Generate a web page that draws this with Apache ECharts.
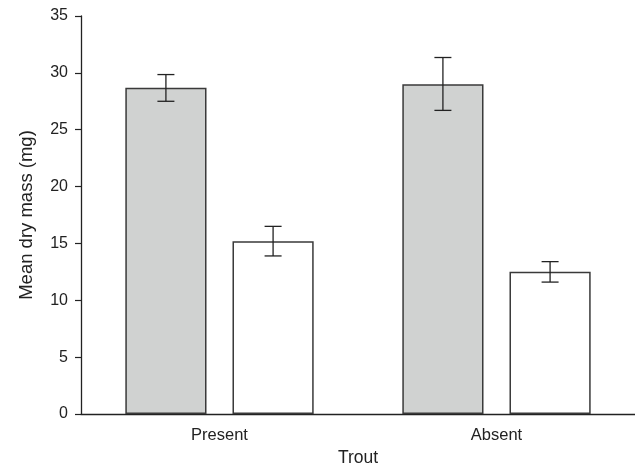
<!DOCTYPE html>
<html>
<head>
<meta charset="utf-8">
<script src="https://cdn.jsdelivr.net/npm/echarts@6/dist/echarts.min.js"></script>
<style>
html,body{margin:0;padding:0;background:#fff;}
#chart{width:635px;height:463px;}
</style>
</head>
<body>
<div id="chart"></div>
<script>
var categories = ['Present', 'Absent'];
var grayMeans = [28.7, 29.0];
var grayLow = [27.5, 26.7];
var grayHigh = [29.85, 31.35];
var whiteMeans = [15.2, 12.5];
var whiteLow = [13.9, 11.6];
var whiteHigh = [16.5, 13.4];
var yTicks = [0, 5, 10, 15, 20, 25, 30, 35];

var GAP = 0.32;
var FONT = '"Liberation Sans", Arial, Helvetica, sans-serif';

function errorSeries(low, high, idx) {
  var data = categories.map(function (c, i) { return [i, low[i], high[i]]; });
  return {
    type: 'custom',
    z: 10,
    silent: true,
    data: data,
    encode: { x: 0, y: [1, 2] },
    renderItem: function (params, api) {
      var x = api.value(0);
      var lo = api.coord([x, api.value(1)]);
      var hi = api.coord([x, api.value(2)]);
      var band = api.size([1, 0])[0];
      var usable = band * (1 - GAP);
      var bw = usable / (2 + GAP);
      var offset = (idx === 0 ? -1 : 1) * (bw + bw * GAP) / 2;
      var cx = lo[0] + offset;
      var cap = 8.5;
      var style = { stroke: '#222', lineWidth: 1.3 };
      return {
        type: 'group',
        children: [
          { type: 'line', shape: { x1: cx, y1: lo[1], x2: cx, y2: hi[1] }, style: style },
          { type: 'line', shape: { x1: cx - cap, y1: lo[1], x2: cx + cap, y2: lo[1] }, style: style },
          { type: 'line', shape: { x1: cx - cap, y1: hi[1], x2: cx + cap, y2: hi[1] }, style: style }
        ]
      };
    }
  };
}

var chart = echarts.init(document.getElementById('chart'), null, { renderer: 'canvas' });
chart.setOption({
  animation: false,
  backgroundColor: '#fff',
  grid: { left: 81, right: 0, top: 16, bottom: 49, containLabel: false, outerBoundsMode: 'none' },
  xAxis: {
    type: 'category',
    data: categories,
    name: 'Trout',
    nameLocation: 'middle',
    nameGap: 30,
    nameTextStyle: { fontFamily: FONT, fontSize: 17.5, color: '#222' },
    axisLine: { lineStyle: { color: '#222', width: 1.3 } },
    axisTick: { alignWithLabel: true, length: 6, lineStyle: { color: '#222', width: 1.2 } },
    axisLabel: { fontFamily: FONT, fontSize: 16.5, color: '#222', margin: 13 },
    splitLine: { show: false }
  },
  yAxis: {
    type: 'value',
    min: yTicks[0],
    max: yTicks[yTicks.length - 1],
    interval: 5,
    name: 'Mean dry mass (mg)',
    nameLocation: 'middle',
    nameGap: 45,
    nameTextStyle: { fontFamily: FONT, fontSize: 18.5, color: '#222' },
    axisLine: { show: true, lineStyle: { color: '#222', width: 1.3 } },
    axisTick: { show: true, length: 6, lineStyle: { color: '#222', width: 1.2 } },
    axisLabel: { fontFamily: FONT, fontSize: 16, color: '#222', margin: 13 },
    splitLine: { show: false }
  },
  series: [
    {
      type: 'bar',
      data: grayMeans,
      barGap: (GAP * 100) + '%',
      barCategoryGap: (GAP * 100) + '%',
      itemStyle: { color: '#d0d2d1', borderColor: '#3a3a3a', borderWidth: 1.5 }
    },
    {
      type: 'bar',
      data: whiteMeans,
      barGap: (GAP * 100) + '%',
      barCategoryGap: (GAP * 100) + '%',
      itemStyle: { color: '#ffffff', borderColor: '#3a3a3a', borderWidth: 1.5 }
    },
    errorSeries(grayLow, grayHigh, 0),
    errorSeries(whiteLow, whiteHigh, 1)
  ]
});
</script>
</body>
</html>
